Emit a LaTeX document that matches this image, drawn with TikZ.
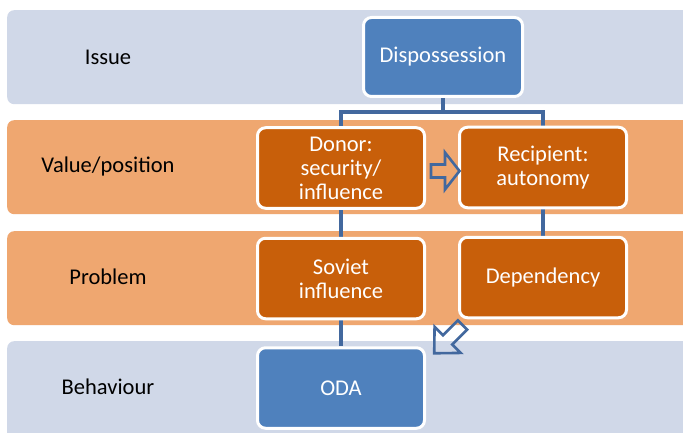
\documentclass[tikz,border=0pt]{standalone}
\usepackage{fontspec}
\setmainfont{Carlito}
\definecolor{lav}{RGB}{208,216,232}
\definecolor{bandor}{RGB}{239,167,112}
\definecolor{boxor}{RGB}{200,95,10}
\definecolor{boxbl}{RGB}{79,129,189}
\definecolor{connbl}{RGB}{66,104,158}
\pgfdeclarelayer{back}
\pgfdeclarelayer{mid}
\pgfsetlayers{back,mid,main}
\tikzset{
  band/.style={rounded corners=7pt, draw=none, minimum width=720pt, minimum height=94pt, anchor=north west, inner sep=0pt},
  lbl/.style={font=\fontsize{22.5}{24}\selectfont, text=black},
  box/.style={rounded corners=8pt, draw=white, line width=3pt, minimum width=167pt, minimum height=80.5pt, align=center, text=white, font=\fontsize{22.5}{24}\selectfont, inner sep=2pt},
  obox/.style={box, fill=boxor},
  bbox/.style={box, fill=boxbl},
  conn/.style={draw=connbl, line width=4pt},
  barrow/.style={draw=connbl, line width=2.6pt, fill=none, line join=miter}
}
\begin{document}
\begin{tikzpicture}[x=1pt,y=-1pt]
\useasboundingbox (0,0) rectangle (683,433);
\clip (0,0) rectangle (683,433);
\begin{pgfonlayer}{back}
\fill[white] (0,0) rectangle (683,433);
\node[band, fill=lav] (b1) at (7,10) {};
\node[band, fill=bandor] (b2) at (7,120) {};
\node[band, fill=bandor] (b3) at (7,231) {};
\node[band, fill=lav, minimum height=110pt] (b4) at (7,341) {};
\end{pgfonlayer}

\node[lbl] (lissue) at (108,57) {Issue};
\node[lbl] (lvalue) at (108,167) {Value/position};
\node[lbl] (lprob) at (108,277) {Problem};
\node[lbl] (lbeh) at (108,387) {Behaviour};

\node[bbox, minimum width=159pt, minimum height=79pt] (disp) at (443,57) {Dispossession};
\node[obox] (donor) at (341,168) {Donor:\\security/\\influence};
\node[obox] (recip) at (543,167.5) {Recipient:\\autonomy};
\node[obox] (soviet) at (341,278.5) {Soviet\\influence};
\node[obox] (dep) at (543,277.5) {Dependency};
\node[bbox] (oda) at (341,388) {ODA};

\coordinate (hl) at (0,112);
\begin{pgfonlayer}{mid}
\draw[conn] (disp.south) -- (disp.south |- hl) -| (donor.north);
\draw[conn] (disp.south |- hl) -| (recip.north);
\draw[conn] (donor.south) -- (soviet.north);
\draw[conn] (soviet.south) -- (oda.north);
\draw[conn] (recip.south) -- (dep.north);
\end{pgfonlayer}

% hollow block arrows
\begin{scope}[shift={(431,171)}]
\draw[barrow] (0,-6.5) -- (14,-6.5) -- (14,-18.5) -- (28.5,0) -- (14,18.5) -- (14,6.5) -- (0,6.5) -- cycle;
\end{scope}
\begin{scope}[shift={(462.5,325)}, rotate=225]
\draw[barrow] (0,-6.5) -- (21,-6.5) -- (21,-18.5) -- (40,0) -- (21,18.5) -- (21,6.5) -- (0,6.5) -- cycle;
\end{scope}
\end{tikzpicture}
\end{document}
